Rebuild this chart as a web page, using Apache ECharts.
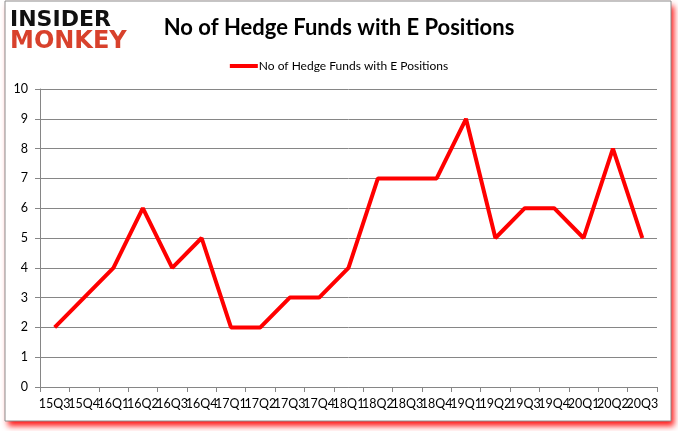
<!DOCTYPE html>
<html>
<head>
<meta charset="utf-8">
<script src="https://cdn.jsdelivr.net/npm/echarts@6/dist/echarts.min.js"></script>
<style>
html,body{margin:0;padding:0;background:#fff;}
#c{width:678px;height:431px;}
</style>
</head>
<body>
<div id="c"></div>
<script>
var categories = ['15Q3','15Q4','16Q1','16Q2','16Q3','16Q4','17Q1','17Q2','17Q3','17Q4','18Q1','18Q2','18Q3','18Q4','19Q1','19Q2','19Q3','19Q4','20Q1','20Q2','20Q3'];
var seriesName = 'No of Hedge Funds with E Positions';
var values = [2,3,4,6,4,5,2,2,3,3,4,7,7,7,9,5,6,6,5,8,5];
var yTicks = [0,1,2,3,4,5,6,7,8,9,10];

var chart = echarts.init(document.getElementById('c'));
chart.setOption({
  animation: false,
  backgroundColor: '#fff',
  graphic: [
    {type:'rect', z:-10, shape:{x:5,y:1,width:666,height:420},
     style:{fill:'#fff', shadowColor:'rgba(255,0,0,0.9)', shadowBlur:6, shadowOffsetX:3, shadowOffsetY:5}},
    {type:'rect', z:-9, shape:{x:5,y:1,width:666,height:420},
     style:{fill:'#fff', stroke:'#8c8c8c', lineWidth:1}},
    {type:'text', left:10, top:9, style:{text:'INSIDER', fontFamily:'DejaVu Sans', fontWeight:'bold', fontSize:22, fill:'#111'}},
    {type:'text', left:10, top:30, style:{text:'MONKEY', fontFamily:'DejaVu Sans', fontWeight:'bold', fontSize:24, fill:'#d8412c'}}
  ],
  title: {
    text: seriesName,
    left: 'center',
    top: 12,
    textStyle: {fontFamily:'Lato', fontWeight:'bold', fontSize:22, color:'#000'}
  },
  legend: {
    top: 55,
    left: 'center',
    icon: 'rect',
    itemWidth: 28,
    itemHeight: 4,
    itemGap: 2,
    textStyle: {fontFamily:'Lato', fontSize:12, color:'#000', padding:[0,0,0,-4]},
    data: [seriesName]
  },
  grid: {left:40, right:21, top:89, bottom:44},
  xAxis: {
    type: 'category',
    data: categories,
    boundaryGap: true,
    axisLine: {lineStyle:{color:'#868686'}},
    axisTick: {show:true, length:5, interval:0, lineStyle:{color:'#868686'}},
    axisLabel: {interval:0, color:'#000', fontFamily:'Lato', fontSize:12.5, margin:10}
  },
  yAxis: {
    type: 'value',
    min: yTicks[0],
    max: yTicks[yTicks.length-1],
    interval: 1,
    axisLine: {show:true, lineStyle:{color:'#868686'}},
    axisTick: {show:true, length:5, lineStyle:{color:'#868686'}},
    axisLabel: {color:'#000', fontFamily:'Lato', fontSize:12.5, margin:12},
    splitLine: {lineStyle:{color:'#868686'}}
  },
  series: [{
    name: seriesName,
    type: 'line',
    data: values,
    symbol: 'none',
    lineStyle: {color:'#ff0000', width:4},
    itemStyle: {color:'#ff0000'}
  }]
});
</script>
</body>
</html>
